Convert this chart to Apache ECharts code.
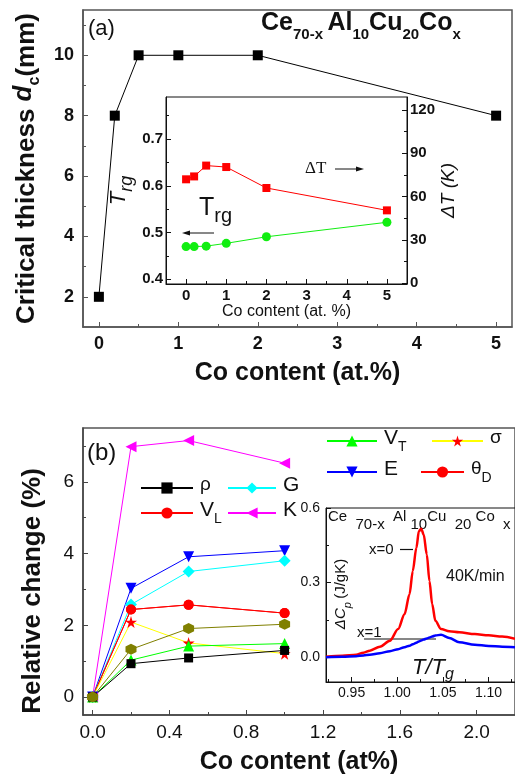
<!DOCTYPE html>
<html>
<head>
<meta charset="utf-8">
<script src="https://cdn.jsdelivr.net/npm/echarts@6.0.0/dist/echarts.min.js"></script>
<style>
html, body { margin: 0; padding: 0; background: #fff; }
#chart { width: 515px; height: 778px; }
</style>
</head>
<body>
<div id="chart"></div>
<script>
// (a) 临界厚度随 Co 含量变化
const coA = [0, 0.2, 0.5, 1, 2, 5];
const thickness = [2, 8, 10, 10, 10, 8];
// (a) 插图：Trg（左轴）与 ΔT（右轴）
const trg = [0.470, 0.470, 0.471, 0.477, 0.491, 0.522];
const deltaT = [72, 74, 81.5, 80.5, 66, 50.5];

// (b) 各物理量相对变化 (%)
const coB = [0, 0.2, 0.5, 1.0];
const rho = [0, 0.93, 1.09, 1.30];
const vT = [0, 1.03, 1.42, 1.49];
const sigma = [0, 2.09, 1.51, 1.21];
const olive = [0, 1.33, 1.91, 2.03];
const vL = [0, 2.44, 2.57, 2.34];
const thetaD = [0, 2.44, 2.57, 2.34];
const shearG = [0, 2.58, 3.50, 3.80];
const youngE = [0, 3.03, 3.91, 4.08];
const bulkK = [0, 6.98, 7.15, 6.52];

// (b) 插图：DSC 曲线
const tRatio = [0.922, 0.940, 0.955, 0.963, 0.970, 0.981, 0.992, 1.001, 1.008, 1.0135, 1.017, 1.021, 1.0237, 1.0263, 1.029, 1.0324, 1.0353, 1.0383, 1.0418, 1.048, 1.057, 1.068, 1.085, 1.100, 1.115, 1.129];
const cpX0 = [0.002, 0.006, 0.010, 0.018, 0.026, 0.042, 0.066, 0.113, 0.173, 0.253, 0.346, 0.440, 0.506, 0.517, 0.493, 0.413, 0.306, 0.213, 0.146, 0.113, 0.104, 0.100, 0.093, 0.088, 0.083, 0.074];
const cpX1 = [0.000, 0.002, 0.004, 0.007, 0.010, 0.016, 0.024, 0.032, 0.040, 0.046, 0.052, 0.058, 0.063, 0.067, 0.071, 0.075, 0.079, 0.083, 0.087, 0.090, 0.077, 0.060, 0.050, 0.045, 0.042, 0.040];

// 刻度
const ticksAx = [0, 1, 2, 3, 4, 5];
const minorAx = [0.5, 1.5, 2.5, 3.5, 4.5];
const ticksAy = [2, 4, 6, 8, 10];
const minorAy = [3, 5, 7, 9, 11];
const ticksInsetX = [0, 1, 2, 3, 4, 5];
const minorInsetX = [0.5, 1.5, 2.5, 3.5, 4.5];
const ticksTrg = [0.4, 0.5, 0.6, 0.7];
const minorTrg = [0.45, 0.55, 0.65, 0.75];
const ticksDT = [0, 30, 60, 90, 120];
const minorDT = [15, 45, 75, 105];
const ticksBx = [0, 0.4, 0.8, 1.2, 1.6, 2.0];
const minorBx = [0.2, 0.6, 1.0, 1.4, 1.8];
const ticksBy = [0, 2, 4, 6];
const minorBy = [1, 3, 5, 7];
const ticksDscX = [0.95, 1.00, 1.05, 1.10];
const minorDscX = [0.925, 0.975, 1.025, 1.075, 1.125];
const ticksDscY = [0, 0.3, 0.6];
const minorDscY = [0.15, 0.45];

const SANS = 'Liberation Sans';
const SERIF = 'Liberation Serif';

// 主刻度轴 + 次刻度轴（次刻度只画短刻度线）
function axisPair(o) {
    const major = {
        type: 'value', gridIndex: o.grid, min: o.min, max: o.max, position: o.pos,
        name: o.name || '', nameLocation: 'middle', nameGap: o.nameGap || 0,
        nameTextStyle: o.nameStyle || {},
        axisLine: { show: true, onZero: false, lineStyle: { color: o.color, width: o.width } },
        axisTick: { show: true, inside: true, length: o.len || 5, customValues: o.major, lineStyle: { color: o.color, width: 1 } },
        axisLabel: Object.assign({ show: true, customValues: o.major, fontFamily: SANS, color: '#111' }, o.label),
        splitLine: { show: false }
    };
    const minor = {
        type: 'value', gridIndex: o.grid, min: o.min, max: o.max, position: o.pos,
        axisLine: { show: false, onZero: false },
        axisTick: { show: true, inside: true, length: o.minLen || 3, customValues: o.minor, lineStyle: { color: o.color, width: 1 } },
        axisLabel: { show: false },
        splitLine: { show: false }
    };
    return [major, minor];
}

const bigName = { fontFamily: SANS, fontSize: 25, fontWeight: 'bold', color: '#111' };

const xAxes = [].concat(
    axisPair({ grid: 0, pos: 'bottom', min: -0.2, max: 5.2, major: ticksAx, minor: minorAx, color: '#555', width: 1.5,
        label: { fontSize: 18, fontWeight: 'bold', margin: 8, formatter: v => String(v) },
        name: 'Co content (at.%)', nameGap: 34, nameStyle: bigName }),
    axisPair({ grid: 1, pos: 'bottom', min: -0.5, max: 5.5, major: ticksInsetX, minor: minorInsetX, color: '#111', width: 1,
        label: { fontSize: 15, fontWeight: 'bold', margin: 4, formatter: v => String(v) },
        name: 'Co content (at. %)', nameGap: 20, nameStyle: { fontFamily: SANS, fontSize: 16, color: '#111' } }),
    axisPair({ grid: 2, pos: 'bottom', min: -0.05, max: 2.2, major: ticksBx, minor: minorBx, color: '#444', width: 1.5,
        label: { fontSize: 19, margin: 8, formatter: v => v.toFixed(1) },
        name: 'Co content (at%)', nameGap: 35, nameStyle: bigName }),
    axisPair({ grid: 3, pos: 'bottom', min: 0.922, max: 1.129, major: ticksDscX, minor: minorDscX, color: '#111', width: 1,
        label: { fontSize: 14, margin: 4, formatter: v => v.toFixed(2) } })
);

const yAxes = [].concat(
    axisPair({ grid: 0, pos: 'left', min: 1, max: 11.5, major: ticksAy, minor: minorAy, color: '#555', width: 1.5,
        label: { fontSize: 18, fontWeight: 'bold', margin: 9 },
        name: 'Critical thickness {i|d}{s|c}(mm)', nameGap: 40,
        nameStyle: Object.assign({}, bigName, { fontSize: 26,
            rich: { i: { fontFamily: SANS, fontSize: 26, fontWeight: 'bold', fontStyle: 'italic', lineHeight: 32, verticalAlign: 'top' },
                    s: { fontFamily: SANS, fontSize: 16, fontWeight: 'bold', lineHeight: 16, verticalAlign: 'bottom' } } }) }),
    axisPair({ grid: 1, pos: 'left', min: 0.39, max: 0.79, major: ticksTrg, minor: minorTrg, color: '#111', width: 1,
        label: { fontSize: 15, fontWeight: 'bold', margin: 3, formatter: v => v.toFixed(1) },
        name: '{i|T}{s|rg}', nameGap: 30,
        nameStyle: { rich: { i: { fontFamily: SANS, fontSize: 22, fontStyle: 'italic', lineHeight: 28, verticalAlign: 'top', color: '#111' },
                             s: { fontFamily: SANS, fontSize: 18, fontStyle: 'italic', lineHeight: 18, verticalAlign: 'bottom', color: '#111' } } } }),
    axisPair({ grid: 1, pos: 'right', min: -0.5, max: 129, major: ticksDT, minor: minorDT, color: '#111', width: 1,
        label: { fontSize: 15, fontWeight: 'bold', margin: 3 },
        name: 'ΔT (K)', nameGap: 30, nameStyle: { fontFamily: SANS, fontSize: 19, fontStyle: 'italic', color: '#111' } }),
    axisPair({ grid: 2, pos: 'left', min: -0.5, max: 7.5, major: ticksBy, minor: minorBy, color: '#444', width: 1.5,
        label: { fontSize: 19, margin: 9 } }),
    axisPair({ grid: 3, pos: 'left', min: -0.1, max: 0.6, major: ticksDscY, minor: minorDscY, color: '#111', width: 1,
        label: { fontSize: 14, margin: 6, formatter: v => v.toFixed(1) } })
);

function pairs(xs, ys) { return xs.map((x, i) => [x, ys[i]]); }

const STAR = 'path://M50,0 L61,35 L98,35 L68,57 L79,91 L50,70 L21,91 L32,57 L2,35 L39,35 Z';
const HEX = 'path://M50,0 L93,25 L93,75 L50,100 L7,75 L7,25 Z';

function bSeries(name, data, symbol, color, lineColor, size, rotate) {
    return {
        name: name, type: 'line', xAxisIndex: 4, yAxisIndex: 6, data: pairs(coB, data),
        symbol: symbol, symbolSize: size || 10, symbolRotate: rotate || 0, showSymbol: true,
        itemStyle: { color: color }, lineStyle: { color: lineColor || color, width: 1 },
        emphasis: { disabled: true }, animation: false
    };
}

const series = [
    { name: 'dc', type: 'line', xAxisIndex: 0, yAxisIndex: 0, data: pairs(coA, thickness),
      symbol: 'rect', symbolSize: 10, itemStyle: { color: '#000' }, lineStyle: { color: '#000', width: 1 } },
    { name: 'dT', type: 'line', xAxisIndex: 2, yAxisIndex: 4, data: pairs(coA, deltaT),
      symbol: 'rect', symbolSize: 8, itemStyle: { color: '#f00' }, lineStyle: { color: '#f00', width: 1 } },
    { name: 'Trg', type: 'line', xAxisIndex: 2, yAxisIndex: 2, data: pairs(coA, trg),
      symbol: 'circle', symbolSize: 9, itemStyle: { color: '#11ee11' }, lineStyle: { color: '#11ee11', width: 1 } },
    bSeries('K', bulkK, 'triangle', '#ff00ff', null, 11, 90),
    bSeries('E', youngE, 'triangle', '#0000ff', null, 11, 180),
    bSeries('G', shearG, 'diamond', '#00ffff', null, 12),
    bSeries('VL', vL, 'circle', '#ff0000', null, 10),
    bSeries('θD', thetaD, 'circle', '#ff0000', null, 10),
    bSeries('σ', sigma, STAR, '#ff0000', '#ffff00', 12),
    bSeries('VT', vT, 'triangle', '#00ff00', null, 11),
    bSeries('ρ', rho, 'rect', '#000000', null, 9),
    bSeries('olive', olive, HEX, '#808000', null, 11),
    { name: 'x0', type: 'line', xAxisIndex: 6, yAxisIndex: 8, data: pairs(tRatio, cpX0), showSymbol: false,
      smooth: 0.3, smoothMonotone: 'x', lineStyle: { color: '#ff0000', width: 2.5 } },
    { name: 'x1', type: 'line', xAxisIndex: 6, yAxisIndex: 8, data: pairs(tRatio, cpX1), showSymbol: false,
      smooth: 0.3, smoothMonotone: 'x', lineStyle: { color: '#0000ff', width: 2.5 } }
];

// 图例文字（带下标）
const legendText = {
    'ρ': '{m|ρ}', 'G': '{b|G}', 'VL': '{b|V}{s|L}', 'K': '{b|K}',
    'VT': '{b|V}{s|T}', 'σ': '{m|σ}', 'E': '{b|E}', 'θD': '{m|θ}{s|D}'
};
const legendRich = {
    b: { fontFamily: SANS, fontSize: 21, color: '#111', lineHeight: 26, verticalAlign: 'top' },
    m: { fontFamily: SANS, fontSize: 19, color: '#111', lineHeight: 26, verticalAlign: 'top' },
    s: { fontFamily: SANS, fontSize: 14, color: '#111', lineHeight: 14, verticalAlign: 'bottom' }
};
function legendAt(name, left, cy, w) {
    return {
        show: true, left: left, top: cy - 13, padding: 0, itemWidth: w || 50, itemHeight: 14, itemGap: 0,
        selectedMode: false, data: [name], formatter: n => legendText[n],
        textStyle: { rich: legendRich, padding: [0, 0, 0, 2] }
    };
}

const legends = [
    legendAt('ρ', 140, 488, 52), legendAt('G', 227, 488, 48),
    legendAt('VL', 140, 513, 52), legendAt('K', 227, 513, 48),
    legendAt('VT', 326, 441, 50), legendAt('σ', 431, 441, 51),
    legendAt('E', 326, 472, 50), legendAt('θD', 420, 472, 43)
];

function txt(left, top, text, style) {
    return { type: 'text', left: left, top: top, style: Object.assign({ text: text, fill: '#111', font: '16px ' + SANS }, style) };
}

const graphics = [
    txt(88, 18, '(a)', { font: '22px ' + SANS }),
    txt(261, 11, '{n|Ce}{s|70-x} {n|Al}{s|10}{n|Cu}{s|20}{n|Co}{s|x}', {
        rich: { n: { fontFamily: SANS, fontSize: 25, fontWeight: 'bold', fill: '#111', lineHeight: 31, verticalAlign: 'top' },
                s: { fontFamily: SANS, fontSize: 15, fontWeight: 'bold', fill: '#111', lineHeight: 15, verticalAlign: 'bottom' } } }),
    txt(305, 160, 'ΔT', { font: '17px ' + SERIF }),
    { type: 'line', shape: { x1: 335, y1: 169, x2: 360, y2: 169 }, style: { stroke: '#111', lineWidth: 1 } },
    { type: 'polygon', shape: { points: [[364, 169], [356, 166.5], [356, 171.5]] }, style: { fill: '#111' } },
    txt(199, 196, '{n|T}{s|rg}', {
        rich: { n: { fontFamily: SANS, fontSize: 25, fill: '#111', lineHeight: 30, verticalAlign: 'top' },
                s: { fontFamily: SANS, fontSize: 20, fill: '#111', lineHeight: 20, verticalAlign: 'bottom' } } }),
    { type: 'line', shape: { x1: 187, y1: 233, x2: 214, y2: 233 }, style: { stroke: '#111', lineWidth: 1 } },
    { type: 'polygon', shape: { points: [[182, 233], [190, 230.5], [190, 235.5]] }, style: { fill: '#111' } },
    txt(87, 441, '(b)', { font: '24px ' + SANS }),
    // (b) 纵轴标题
    { type: 'text', x: 33, y: 591, rotation: Math.PI / 2,
      style: { text: 'Relative change (%)', align: 'center', verticalAlign: 'middle', fill: '#111', font: 'bold 26px ' + SANS } },
    txt(328, 509, '{n|Ce  }{s|70-x  }{n|Al }{s|10}{n|Cu  }{s|20 }{n|Co  }{s|x}', {
        rich: { n: { fontFamily: SANS, fontSize: 15, fill: '#111', lineHeight: 23, verticalAlign: 'top' },
                s: { fontFamily: SANS, fontSize: 15, fill: '#111', lineHeight: 15, verticalAlign: 'bottom' } } }),
    txt(369, 542, 'x=0', { font: '15px ' + SANS }),
    { type: 'line', shape: { x1: 400, y1: 549.5, x2: 413, y2: 549.5 }, style: { stroke: '#111', lineWidth: 1.2 } },
    txt(357, 625, 'x=1', { font: '15px ' + SANS }),
    { type: 'line', shape: { x1: 364, y1: 639, x2: 436, y2: 639 }, style: { stroke: '#111', lineWidth: 1.2 } },
    txt(446, 569, '40K/min', { font: '16px ' + SANS }),
    txt(412, 657, '{n|T/T}{s|g}', {
        rich: { n: { fontFamily: SANS, fontSize: 22, fontStyle: 'italic', fill: '#111', lineHeight: 26, verticalAlign: 'top' },
                s: { fontFamily: SANS, fontSize: 16, fontStyle: 'italic', fill: '#111', lineHeight: 16, verticalAlign: 'bottom' } } }),
    { type: 'text', x: 343, y: 594, rotation: Math.PI / 2,
      style: { text: '{i|ΔC}{s|p} {n|(J/gK)}', align: 'center', verticalAlign: 'middle',
        rich: { i: { fontFamily: SANS, fontSize: 15, fontStyle: 'italic', fill: '#111', lineHeight: 20, verticalAlign: 'top' },
                s: { fontFamily: SANS, fontSize: 11, fontStyle: 'italic', fill: '#111', lineHeight: 11, verticalAlign: 'bottom' },
                n: { fontFamily: SANS, fontSize: 15, fill: '#111', lineHeight: 20, verticalAlign: 'top' } } } }
];

const chart = echarts.init(document.getElementById('chart'), null, { renderer: 'canvas' });
chart.setOption({
    animation: false,
    backgroundColor: '#fff',
    grid: [
        { left: 83, top: 10, width: 429, height: 317, show: true, borderColor: '#555', borderWidth: 1.5, backgroundColor: '#fff' },
        { left: 166, top: 97, width: 241, height: 187, show: true, borderColor: '#111', borderWidth: 1, backgroundColor: '#fff' },
        { left: 83, top: 428, width: 434, height: 287, show: true, borderColor: '#555', borderWidth: 1.5, backgroundColor: '#fff' },
        { left: 326, top: 508, width: 190, height: 174, show: true, borderColor: '#111', borderWidth: 1, backgroundColor: '#fff' }
    ],
    xAxis: xAxes,
    yAxis: yAxes,
    legend: legends,
    series: series,
    graphic: graphics
});
</script>
</body>
</html>
